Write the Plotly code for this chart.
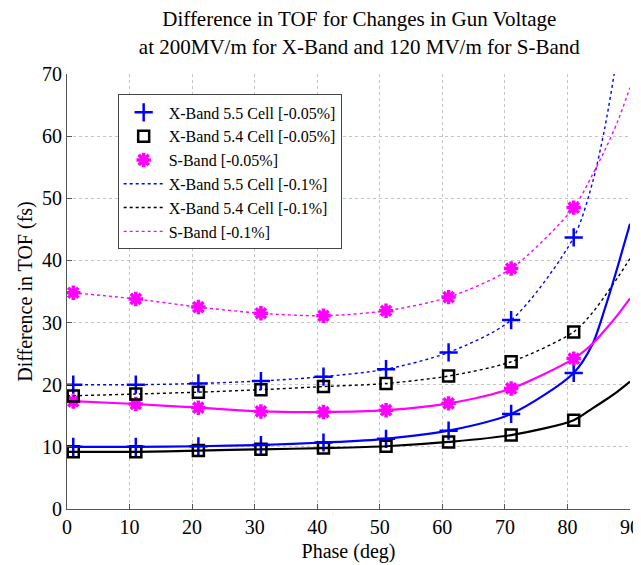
import plotly.graph_objects as go

# Measured points (phase in degrees)
phase = [1, 11, 21, 31, 41, 51, 61, 71, 81]
x55_005 = [10.0, 10.0, 10.1, 10.3, 10.7, 11.3, 12.6, 15.3, 21.9]
x54_005 = [9.2, 9.2, 9.4, 9.6, 9.8, 10.1, 10.8, 11.9, 14.3]
s_005 = [17.3, 16.9, 16.3, 15.7, 15.6, 15.9, 17.0, 19.4, 24.2]
x55_01 = [20.0, 20.0, 20.2, 20.6, 21.3, 22.5, 25.2, 30.4, 43.7]
x54_01 = [18.2, 18.5, 18.8, 19.2, 19.7, 20.2, 21.4, 23.7, 28.5]
s_01 = [34.8, 33.8, 32.5, 31.5, 31.1, 31.9, 34.1, 38.7, 48.5]

# Fitted curves
phase_fit = [0, 11, 21, 31, 41, 51, 61, 71, 81, 84, 86, 88, 90]
fit_x55_005 = [10.0, 10.0, 10.1, 10.3, 10.7, 11.3, 12.6, 15.3, 21.9, 26.5, 32.3, 38.9, 45.9]
fit_x54_005 = [9.2, 9.2, 9.4, 9.6, 9.8, 10.1, 10.8, 11.9, 14.3, 16.2, 17.5, 18.9, 20.5]
fit_s_005 = [17.4, 16.9, 16.3, 15.7, 15.6, 15.9, 17.0, 19.4, 24.2, 26.6, 28.8, 31.2, 33.9]
fit_x55_01 = [20.0, 20.0, 20.2, 20.6, 21.3, 22.5, 25.2, 30.4, 43.7, 52.5, 61.5, 73.5, 90.0]
fit_x54_01 = [18.2, 18.5, 18.8, 19.2, 19.7, 20.2, 21.4, 23.7, 28.5, 31.6, 34.3, 37.2, 40.3]
fit_s_01 = [34.9, 33.8, 32.5, 31.5, 31.1, 31.9, 34.1, 38.7, 48.5, 53.8, 57.8, 62.3, 67.8]

BLUE = "#0000FF"
BLACK = "#000000"
PINK = "#FF00FF"
FONT = "'Liberation Serif', 'Times New Roman', Times, serif"
DOT = "dot"

plus = dict(symbol="cross-thin-open", size=13, color=BLUE, line=dict(color=BLUE, width=2.5))
square = dict(symbol="square-open", size=11, color=BLACK, line=dict(color=BLACK, width=2.5))
star = dict(symbol="asterisk-open", size=12, color=PINK, line=dict(color=PINK, width=3.5))

fig = go.Figure()

# Legend entries: markers (-0.05%)
fig.add_trace(go.Scatter(x=phase, y=x55_005, mode="markers", name="X-Band 5.5 Cell [-0.05%]", marker=plus))
fig.add_trace(go.Scatter(x=phase, y=x54_005, mode="markers", name="X-Band 5.4 Cell [-0.05%]", marker=square))
fig.add_trace(go.Scatter(x=phase, y=s_005, mode="markers", name="S-Band [-0.05%]", marker=star))
# Legend entries: dotted fits (-0.1%)
fig.add_trace(go.Scatter(x=phase_fit, y=fit_x55_01, mode="lines", name="X-Band 5.5 Cell [-0.1%]",
                         line=dict(color=BLUE, width=1.4, dash=DOT, shape="spline", smoothing=0.8)))
fig.add_trace(go.Scatter(x=phase_fit, y=fit_x54_01, mode="lines", name="X-Band 5.4 Cell [-0.1%]",
                         line=dict(color=BLACK, width=1.4, dash=DOT, shape="spline", smoothing=0.8)))
fig.add_trace(go.Scatter(x=phase_fit, y=fit_s_01, mode="lines", name="S-Band [-0.1%]",
                         line=dict(color=PINK, width=1.4, dash=DOT, shape="spline", smoothing=0.8)))
# Solid fits (-0.05%), no legend
for yv, c in [(fit_x55_005, BLUE), (fit_x54_005, BLACK), (fit_s_005, PINK)]:
    fig.add_trace(go.Scatter(x=phase_fit, y=yv, mode="lines", showlegend=False,
                             line=dict(color=c, width=2.2, shape="spline", smoothing=0.8)))
# Markers (-0.1%), no legend
fig.add_trace(go.Scatter(x=phase, y=x55_01, mode="markers", showlegend=False, marker=plus))
fig.add_trace(go.Scatter(x=phase, y=x54_01, mode="markers", showlegend=False, marker=square))
fig.add_trace(go.Scatter(x=phase, y=s_01, mode="markers", showlegend=False, marker=star))

axis_common = dict(
    showgrid=True, gridcolor="#c4c4c4", griddash="dot", gridwidth=1,
    showline=True, linecolor="#555555", linewidth=1,
    ticks="inside", ticklen=5, tickcolor="#555555",
    zeroline=False, ticklabeloverflow="allow", automargin=False,
    tickfont=dict(family=FONT, size=20, color="black"),
)

# The page body has an 8px margin, so the figure is sized/offset to compensate.
fig.update_layout(
    width=633, height=557,
    margin=dict(l=59, r=11, t=66, b=56),
    paper_bgcolor="white", plot_bgcolor="white",
    font=dict(family=FONT, color="black"),
    title=dict(text="Difference in TOF for Changes in Gun Voltage<br>at 200MV/m for X-Band and 120 MV/m for S-Band",
               x=0.555, xanchor="center", yref="container", y=0.967, yanchor="bottom",
               font=dict(family=FONT, size=21, color="black")),
    xaxis=dict(range=[0, 90], dtick=10,
               title=dict(text="Phase (deg)", font=dict(family=FONT, size=20), standoff=6),
               **axis_common),
    yaxis=dict(range=[0, 70], dtick=10,
               title=dict(text="Difference in TOF (fs)", font=dict(family=FONT, size=20), standoff=4),
               **axis_common),
    legend=dict(x=0.09, y=0.953, xanchor="left", yanchor="top",
                bgcolor="white", bordercolor="#444444", borderwidth=1,
                font=dict(family=FONT, size=16, color="black"),
                tracegroupgap=0, itemwidth=40),
    showlegend=True,
)

fig.write_html("out.html", config={"displayModeBar": False})
